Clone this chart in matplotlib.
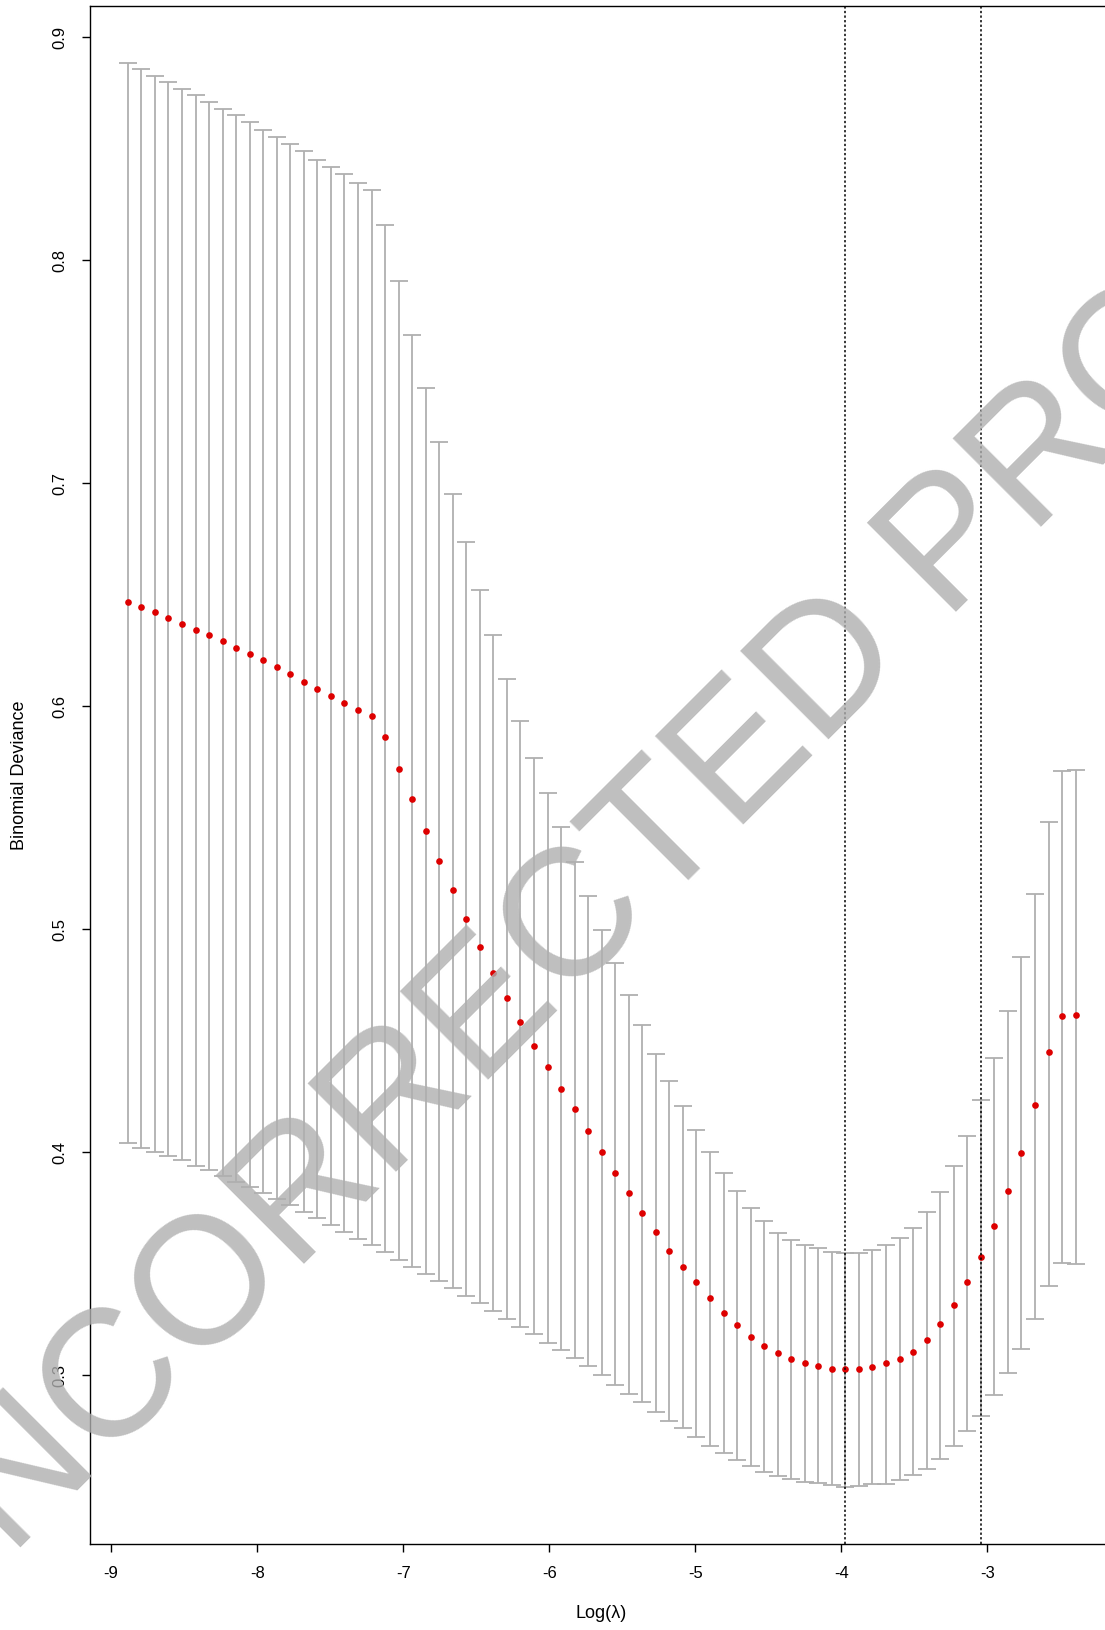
"""
Cross-validation curve (binomial deviance vs log lambda), glmnet style.
"""
import numpy as np
import matplotlib
import matplotlib.pyplot as plt

matplotlib.use('Agg')  # no display

# log(lambda) for each fitted model on the path
log_lambda = [-8.886, -8.793, -8.701, -8.608, -8.515, -8.422, -8.330, -8.237, -8.144, -8.052,
              -7.959, -7.866, -7.774, -7.681, -7.588, -7.496, -7.403, -7.310, -7.217, -7.125,
              -7.032, -6.939, -6.847, -6.754, -6.661, -6.569, -6.476, -6.383, -6.290, -6.198,
              -6.105, -6.012, -5.920, -5.827, -5.734, -5.642, -5.549, -5.456, -5.363, -5.271,
              -5.178, -5.085, -4.993, -4.900, -4.807, -4.715, -4.622, -4.529, -4.436, -4.344,
              -4.251, -4.158, -4.066, -3.973, -3.880, -3.788, -3.695, -3.602, -3.509, -3.417,
              -3.324, -3.231, -3.139, -3.046, -2.953, -2.861, -2.768, -2.675, -2.582, -2.490,
              -2.397]

# mean cross-validated deviance
cvm = [0.6467, 0.6447, 0.6422, 0.6396, 0.6370, 0.6344, 0.6319, 0.6293, 0.6261, 0.6235,
       0.6208, 0.6177, 0.6144, 0.6111, 0.6079, 0.6047, 0.6014, 0.5982, 0.5957, 0.5860,
       0.5718, 0.5582, 0.5440, 0.5304, 0.5175, 0.5045, 0.4922, 0.4806, 0.4691, 0.4582,
       0.4478, 0.4380, 0.4283, 0.4192, 0.4096, 0.4003, 0.3908, 0.3818, 0.3727, 0.3643,
       0.3559, 0.3487, 0.3416, 0.3346, 0.3281, 0.3223, 0.3171, 0.3132, 0.3101, 0.3074,
       0.3056, 0.3042, 0.3029, 0.3029, 0.3029, 0.3035, 0.3056, 0.3074, 0.3106, 0.3157,
       0.3229, 0.3314, 0.3416, 0.3532, 0.3668, 0.3824, 0.3998, 0.4211, 0.4449, 0.4610,
       0.4617]

# upper and lower bars (mean +/- 1 se)
cvup = [0.8885, 0.8856, 0.8825, 0.8801, 0.8767, 0.8742, 0.8708, 0.8677, 0.8650, 0.8619,
        0.8586, 0.8553, 0.8520, 0.8489, 0.8450, 0.8419, 0.8386, 0.8347, 0.8314, 0.8158,
        0.7907, 0.7666, 0.7428, 0.7187, 0.6953, 0.6735, 0.6523, 0.6321, 0.6121, 0.5934,
        0.5766, 0.5610, 0.5458, 0.5302, 0.5151, 0.4998, 0.4849, 0.4706, 0.4570, 0.4440,
        0.4318, 0.4208, 0.4099, 0.4003, 0.3905, 0.3827, 0.3750, 0.3692, 0.3639, 0.3607,
        0.3582, 0.3569, 0.3554, 0.3549, 0.3549, 0.3562, 0.3582, 0.3615, 0.3660, 0.3730,
        0.3820, 0.3937, 0.4072, 0.4233, 0.4422, 0.4634, 0.4875, 0.5157, 0.5480, 0.5710,
        0.5716]
cvlo = [0.4042, 0.4021, 0.4003, 0.3982, 0.3965, 0.3938, 0.3920, 0.3893, 0.3867, 0.3842,
        0.3817, 0.3791, 0.3763, 0.3733, 0.3706, 0.3673, 0.3642, 0.3609, 0.3585, 0.3552,
        0.3517, 0.3486, 0.3455, 0.3422, 0.3389, 0.3356, 0.3325, 0.3287, 0.3254, 0.3216,
        0.3183, 0.3144, 0.3111, 0.3078, 0.3040, 0.3001, 0.2956, 0.2916, 0.2878, 0.2833,
        0.2795, 0.2762, 0.2724, 0.2684, 0.2651, 0.2619, 0.2594, 0.2567, 0.2548, 0.2536,
        0.2522, 0.2516, 0.2506, 0.2498, 0.2503, 0.2512, 0.2514, 0.2528, 0.2553, 0.2580,
        0.2625, 0.2684, 0.2748, 0.2819, 0.2910, 0.3008, 0.3118, 0.3254, 0.3401, 0.3504,
        0.3498]

log_lambda_min = -3.973
log_lambda_1se = -3.046

x_ticks = [-9, -8, -7, -6, -5, -4, -3]
y_ticks = [0.3, 0.4, 0.5, 0.6, 0.7, 0.8, 0.9]

plt.rcParams['font.family'] = ['Liberation Sans', 'DejaVu Sans']

fig = plt.figure(figsize=(11.05, 16.30), dpi=100)
ax = fig.add_axes([0.08136, 0.0527, 0.9263, 0.9436])

x = np.array(log_lambda)
m = np.array(cvm)
up = np.array(cvup)
lo = np.array(cvlo)

# error bars first, then the points on top
ax.errorbar(x, m, yerr=[m - lo, up - m], fmt='none', ecolor='#b0b0b0',
            elinewidth=1.3, capsize=6.5, capthick=1.3, zorder=2)
ax.plot(x, m, linestyle='none', marker='o', markersize=4.8,
        color='#dd0000', markeredgewidth=0, zorder=3)

# lambda.min and lambda.1se
for v in (log_lambda_min, log_lambda_1se):
    ax.axvline(v, color='black', linestyle=(0, (1.5, 1.5)), linewidth=1.1, zorder=4)

# R-style 4% padding around the data
xr = x.max() - x.min()
yr = up.max() - lo.min()
ax.set_xlim(x.min() - 0.04 * xr, x.max() + 0.04 * xr)
ax.set_ylim(lo.min() - 0.04 * yr, up.max() + 0.04 * yr)

ax.set_xticks(x_ticks)
ax.set_xticklabels([str(t) for t in x_ticks])
ax.set_yticks(y_ticks)
ax.set_yticklabels([f"{t:.1f}" for t in y_ticks], rotation=90, va='center')
ax.tick_params(direction='out', length=6, width=1, labelsize=12, pad=10)

for s in ax.spines.values():
    s.set_linewidth(1.0)

# axis titles placed like R's mtext
fig.text(0.5439, 0.0104, 'Log(λ)', fontsize=13, ha='center', va='center')
fig.text(0.0172, 0.5245, 'Binomial Deviance', fontsize=13, rotation=90,
         ha='center', va='center')

# watermark across the page
fig.text(0.5665, 0.4626, 'UNCORRECTED PROOF', fontsize=130, color='#afafaf',
         alpha=0.8, rotation=45, ha='center', va='center', zorder=10)

fig.savefig('out.png', dpi=100)
plt.close(fig)
